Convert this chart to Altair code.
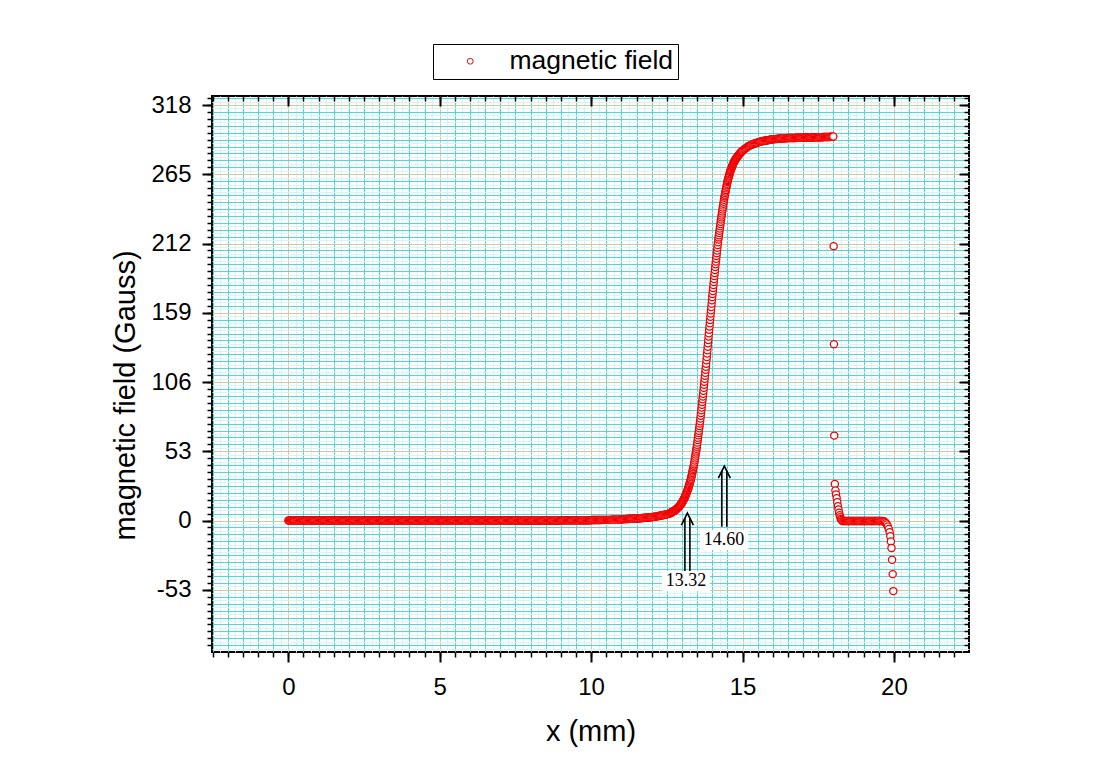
import altair as alt
import pandas as pd

# ---------------- data ----------------
SERIES = "magnetic field"

# flat part, sampled every 0.03 mm from 0.00 mm
seg_a_start, seg_a_step = 0.0, 0.03
seg_a_y = [
    0, 0, 0, 0, 0, 0, 0, 0, 0, 0, 0, 0, 0, 0, 0, 0, 0, 0, 0, 0,
    0, 0, 0, 0, 0, 0, 0, 0, 0, 0, 0, 0, 0, 0, 0, 0, 0, 0, 0, 0,
    0, 0, 0, 0, 0, 0, 0, 0, 0, 0, 0, 0, 0, 0, 0, 0, 0, 0, 0, 0,
    0, 0, 0, 0, 0, 0, 0, 0, 0, 0, 0, 0, 0, 0, 0, 0, 0, 0, 0, 0,
    0, 0, 0, 0, 0, 0, 0, 0, 0, 0, 0, 0, 0, 0, 0, 0, 0, 0, 0, 0,
    0, 0, 0, 0, 0, 0, 0, 0, 0, 0, 0, 0, 0, 0, 0, 0, 0, 0, 0, 0,
    0, 0, 0, 0, 0, 0, 0, 0, 0, 0, 0, 0, 0, 0, 0, 0, 0, 0, 0, 0,
    0, 0, 0, 0, 0, 0, 0, 0, 0, 0, 0, 0, 0, 0, 0, 0, 0, 0, 0, 0,
    0, 0, 0, 0, 0, 0, 0, 0, 0, 0, 0, 0, 0, 0, 0, 0, 0, 0, 0, 0,
    0, 0, 0, 0, 0, 0, 0, 0, 0, 0, 0, 0, 0, 0, 0, 0, 0, 0, 0, 0,
    0, 0, 0, 0, 0, 0, 0, 0, 0, 0, 0, 0, 0, 0, 0, 0, 0, 0, 0, 0,
    0, 0, 0, 0, 0, 0, 0, 0, 0, 0, 0, 0, 0, 0, 0, 0, 0, 0, 0, 0,
    0, 0, 0, 0, 0, 0, 0, 0, 0, 0, 0.1, 0.1, 0.1, 0.1, 0.1, 0.1, 0.1, 0.1, 0.1, 0.1,
    0.1, 0.1, 0.1, 0.1, 0.1, 0.1, 0.1, 0.1, 0.1, 0.1, 0.1, 0.1, 0.1, 0.1, 0.1, 0.1, 0.1, 0.1, 0.1, 0.1,
    0.1, 0.1, 0.1, 0.1, 0.1, 0.1, 0.1, 0.1, 0.1, 0.1, 0.1, 0.1, 0.1, 0.1, 0.1, 0.1, 0.1, 0.1, 0.1, 0.1,
    0.2, 0.2, 0.2, 0.2, 0.2, 0.2, 0.2, 0.2, 0.2, 0.2, 0.2, 0.2, 0.2, 0.2, 0.2, 0.2, 0.2, 0.3, 0.3, 0.3,
    0.3, 0.3, 0.3, 0.3, 0.3, 0.3, 0.3, 0.3, 0.3, 0.3, 0.3, 0.3, 0.3, 0.3, 0.4, 0.4, 0.4, 0.4, 0.4, 0.4,
    0.4, 0.4, 0.4, 0.4, 0.4, 0.5, 0.5, 0.5, 0.5, 0.5, 0.5, 0.5, 0.5, 0.5, 0.5, 0.5, 0.7, 0.7, 0.7, 0.7,
    0.7, 0.7, 0.7, 0.7, 0.7, 0.7, 0.7, 0.9, 1.0, 1.0, 1.1, 1.1, 1.2, 1.2, 1.2, 1.3, 1.3, 1.3, 1.4, 1.4,
    1.4, 1.5, 1.5, 1.5, 1.6, 1.6, 1.7, 1.8, 1.8, 1.9, 2.0, 2.0, 2.1, 2.2, 2.2, 2.3, 2.4, 2.4, 2.5, 2.5,
    2.6, 2.7, 2.8, 2.9, 3.0, 3.1, 3.2, 3.4, 3.5, 3.6, 3.8, 3.9, 4.1, 4.2, 4.4, 4.5, 4.7, 4.9, 5.1, 5.3,
]

# steep rise, sampled every 0.01 mm from 12.60 mm
seg_b_start, seg_b_step = 12.60, 0.01
seg_b_y = [
    5.5, 5.6, 5.8, 5.9, 6.0, 6.2, 6.3, 6.4, 6.5, 6.7,
    6.8, 7.0, 7.1, 7.3, 7.4, 7.6, 7.7, 7.9, 8.0, 8.2,
    8.3, 8.5, 8.7, 9.0, 9.2, 9.4, 9.6, 9.8, 10.1, 10.3,
    10.5, 10.8, 11.1, 11.4, 11.7, 12.0, 12.3, 12.6, 12.9, 13.2,
    13.5, 13.9, 14.4, 14.8, 15.3, 15.7, 16.2, 16.6, 17.1, 17.5,
    18.0, 18.6, 19.2, 19.8, 20.4, 21.0, 21.6, 22.2, 22.8, 23.4,
    24.0, 24.8, 25.6, 26.4, 27.2, 28.0, 28.8, 29.6, 30.4, 31.2,
    32.0, 33.1, 34.2, 35.3, 36.4, 37.5, 38.6, 39.7, 40.8, 41.9,
    43.0, 44.5, 46.0, 47.5, 49.0, 50.5, 52.0, 53.5, 55.0, 56.5,
    58.0, 59.8, 61.6, 63.4, 65.2, 67.0, 68.8, 70.6, 72.4, 74.2,
    76.0, 78.1, 80.2, 82.3, 84.4, 86.5, 88.6, 90.7, 92.8, 94.9,
    97.0, 99.3, 101.6, 103.9, 106.2, 108.5, 110.8, 113.1, 115.4, 117.7,
    120.0, 122.6, 125.2, 127.8, 130.4, 133.0, 135.6, 138.2, 140.8, 143.4,
    146.0, 148.5, 151.0, 153.5, 156.0, 158.5, 161.0, 163.5, 166.0, 168.5,
    171.0, 173.3, 175.6, 177.9, 180.2, 182.5, 184.8, 187.1, 189.4, 191.7,
    194.0, 196.1, 198.2, 200.3, 202.4, 204.5, 206.6, 208.7, 210.8, 212.9,
    215.0, 216.7, 218.4, 220.1, 221.8, 223.5, 225.2, 226.9, 228.6, 230.3,
    232.0, 233.5, 235.0, 236.5, 238.0, 239.5, 241.0, 242.5, 244.0, 245.5,
    247.0, 248.2, 249.4, 250.6, 251.8, 253.0, 254.2, 255.4, 256.6, 257.8,
    259.0, 259.9, 260.7, 261.6, 262.4, 263.3, 264.1, 265.0, 265.8, 266.7,
    267.5, 268.1, 268.7, 269.3, 269.9, 270.5, 271.1, 271.7, 272.3, 272.9,
    273.5, 273.9, 274.3, 274.7, 275.1, 275.5, 275.9, 276.3, 276.7, 277.1,
    277.5, 277.8, 278.1, 278.4, 278.7, 279.0, 279.3, 279.6, 279.9, 280.2,
    280.5, 280.8, 281.0, 281.3, 281.5, 281.8, 282.0, 282.3, 282.5, 282.8,
]

# plateau, sampled every 0.03 mm from 15.00 mm to 18.00 mm
seg_c_start, seg_c_step = 15.00, 0.03
seg_c_y = [
    283.0, 283.5, 284.1, 284.6, 285.1, 285.6, 286.2, 286.6, 287.0, 287.3,
    287.6, 287.9, 288.2, 288.6, 288.8, 289.0, 289.2, 289.4, 289.6, 289.8,
    290.0, 290.2, 290.3, 290.5, 290.6, 290.8, 290.9, 291.0, 291.1, 291.2,
    291.4, 291.5, 291.6, 291.7, 291.8, 291.9, 291.9, 292.0, 292.1, 292.2,
    292.2, 292.3, 292.4, 292.4, 292.5, 292.6, 292.6, 292.6, 292.6, 292.7,
    292.7, 292.7, 292.7, 292.7, 292.8, 292.8, 292.8, 292.8, 292.8, 292.9,
    292.9, 292.9, 292.9, 292.9, 293.0, 293.0, 293.0, 293.0, 293.0, 293.1,
    293.1, 293.1, 293.1, 293.1, 293.2, 293.2, 293.2, 293.2, 293.2, 293.3,
    293.3, 293.3, 293.3, 293.3, 293.4, 293.4, 293.4, 293.4, 293.4, 293.5,
    293.5, 293.5, 293.5, 293.6, 293.6, 293.6, 293.6, 293.7, 293.7, 293.8,
    293.9,
]

# sudden drop after 18 mm
drop_x = [18.01, 18.02, 18.03, 18.05, 18.07, 18.09, 18.11, 18.13, 18.15, 18.17,
          18.19, 18.21, 18.23, 18.25, 18.27]
drop_y = [210, 135, 65, 28, 23, 20, 17, 14, 11, 8.5, 6, 4, 2.5, 1.2, 0.5]

# second flat part, sampled every 0.03 mm from 18.30 mm
seg_d_start, seg_d_step = 18.30, 0.03
seg_d_y = [
    -0.3, -0.3, -0.3, -0.3, -0.3, -0.3, -0.3, -0.3, -0.3, -0.3,
    -0.3, -0.3, -0.3, -0.3, -0.3, -0.3, -0.3, -0.3, -0.3, -0.3,
    -0.3, -0.3, -0.3, -0.3, -0.3, -0.3, -0.3, -0.3, -0.3, -0.3,
    -0.3, -0.3, -0.3, -0.3, -0.3, -0.3, -0.3, -0.3, -0.3, -0.3,
    -0.3, -0.3, -0.3, -0.3, -0.3,
]

# negative tail near 20 mm
tail_x = [19.65, 19.68, 19.71, 19.74, 19.77, 19.80, 19.83, 19.86, 19.88, 19.90,
          19.92, 19.94, 19.96, 19.98]
tail_y = [-0.5, -0.8, -1.3, -2.0, -3.0, -4.5, -6.5, -9, -12, -16, -21, -30, -41, -54]

# annotations (arrows with labels)
ann_text = ["13.32", "14.60"]
ann_x = [13.18, 14.40]
ann_tip = [5.7, 41.7]
ann_base = [-40.2, -4.7]
ann_label_x = [13.13, 14.39]
ann_label_y = [-46.3, -14.9]

# axis ticks
x_major = [0, 5, 10, 15, 20]
y_major = [-53, 0, 53, 106, 159, 212, 265, 318]

X_DOMAIN = [-2.52, 22.48]
Y_DOMAIN = [-100.6, 324.9]

x_minor = [round(-2.5 + 0.5 * k, 2) for k in range(50)]
x_light = [round(-2.25 + 0.5 * k, 2) for k in range(50)]
y_minor = [round(5.3 * k, 2) for k in range(-19, 62)]
y_light = [round(5.3 * k + 2.65, 2) for k in range(-19, 62)]
x_minor = [v for v in x_minor if X_DOMAIN[0] <= v <= X_DOMAIN[1]]
x_light = [v for v in x_light if X_DOMAIN[0] <= v <= X_DOMAIN[1]]
y_minor = [v for v in y_minor if Y_DOMAIN[0] <= v <= Y_DOMAIN[1]]
y_light = [v for v in y_light if Y_DOMAIN[0] <= v <= Y_DOMAIN[1]]


def uniform(start, step, ys):
    return [round(start + i * step, 4) for i in range(len(ys))]


xs = (uniform(seg_a_start, seg_a_step, seg_a_y)
      + uniform(seg_b_start, seg_b_step, seg_b_y)
      + uniform(seg_c_start, seg_c_step, seg_c_y)
      + drop_x
      + uniform(seg_d_start, seg_d_step, seg_d_y)
      + tail_x)
ys = seg_a_y + seg_b_y + seg_c_y + drop_y + seg_d_y + tail_y
df = pd.DataFrame({"x": xs, "field": ys, "series": SERIES})

ann_df = pd.DataFrame({
    "ax": ann_x, "tip": ann_tip, "base": ann_base,
    "lx": ann_label_x, "ly": ann_label_y, "txt": ann_text,
})

# ---------------- styling ----------------
FONT = "Liberation Sans"
CYAN = "#55d6d6"
LIGHT = "#d3f5f5"
TAN = "#d6c6a2"
RED = "#f00000"

X_SCALE = alt.Scale(domain=X_DOMAIN, nice=False, zero=False)
Y_SCALE = alt.Scale(domain=Y_DOMAIN, nice=False, zero=False)


def grid_axis(orient, values, color, tick_size=0):
    kw = dict(orient=orient, values=values, domain=False, labels=False, title=None,
              grid=True, gridColor=color, gridWidth=1, gridOpacity=1)
    if tick_size > 0:
        kw.update(ticks=True, tickSize=tick_size, tickColor="black", tickWidth=1.5)
    else:
        kw.update(ticks=False)
    return alt.Axis(**kw)


def mirror_axis(orient, values, tick_size, tick_width):
    return alt.Axis(orient=orient, values=values, domain=False, labels=False, title=None,
                    grid=False, ticks=True, tickSize=tick_size, tickColor="black",
                    tickWidth=tick_width, offset=-tick_size)


carrier = alt.Chart(ann_df).mark_point(opacity=0, size=1)


def axis_layer(xa, ya):
    return carrier.encode(
        x=alt.X("ax:Q", scale=X_SCALE, axis=xa),
        y=alt.Y("tip:Q", scale=Y_SCALE, axis=ya),
    )


light_layer = axis_layer(grid_axis("bottom", x_light, LIGHT), grid_axis("left", y_light, LIGHT))
cyan_layer = axis_layer(grid_axis("bottom", x_minor, CYAN, 5), grid_axis("left", y_minor, CYAN, 5))

main_x_axis = alt.Axis(
    orient="bottom", values=x_major, domain=False, grid=True, gridColor=TAN, gridWidth=1,
    ticks=True, tickSize=10, tickWidth=2, tickColor="black",
    labelFont=FONT, labelFontSize=24, labelColor="black", labelPadding=13,
    labelExpr="toString(datum.value)",
    title="x (mm)", titleFont=FONT, titleFontSize=29, titleFontWeight="normal",
    titleColor="black", titleY=88, titleBaseline="alphabetic",
)
main_y_axis = alt.Axis(
    orient="left", values=y_major, domain=False, grid=True, gridColor=TAN, gridWidth=1,
    ticks=True, tickSize=10, tickWidth=2, tickColor="black",
    labelFont=FONT, labelFontSize=24, labelColor="black", labelPadding=11,
    labelExpr="toString(datum.value)",
    title="magnetic field (Gauss)", titleFont=FONT, titleFontSize=29,
    titleFontWeight="normal", titleColor="black", titleX=-87, titleY=299,
    titleBaseline="middle", titleAngle=270,
)
major_layer = axis_layer(main_x_axis, main_y_axis)

top_minor = axis_layer(mirror_axis("top", x_minor, 5, 1.5), mirror_axis("right", y_minor, 5, 1.5))
top_major = axis_layer(mirror_axis("top", x_major, 10, 2), mirror_axis("right", y_major, 10, 2))

points = alt.Chart(df).mark_point(
    shape="circle", filled=True, fill="white", size=52, strokeWidth=1.25, opacity=1
).encode(
    x=alt.X("x:Q", scale=X_SCALE, axis=None),
    y=alt.Y("field:Q", scale=Y_SCALE, axis=None),
    stroke=alt.Stroke(
        "series:N",
        scale=alt.Scale(domain=[SERIES], range=[RED]),
        legend=alt.Legend(
            orient="none", legendX=221, legendY=-52, title=None, padding=4,
            strokeColor="black", fillColor="white", cornerRadius=0,
            symbolType="circle", symbolSize=34, symbolStrokeWidth=1,
            symbolFillColor="white", symbolOffset=20, labelOffset=26,
            labelLimit=400,
            labelFont=FONT, labelFontSize=26.5, labelColor="black",
        ),
    ),
)

ann_base_chart = alt.Chart(ann_df)
shaft_l = ann_base_chart.mark_rule(color="black", strokeWidth=1.6, xOffset=-2.5, y2Offset=5).encode(
    x=alt.X("ax:Q", scale=X_SCALE, axis=None),
    y=alt.Y("base:Q", scale=Y_SCALE, axis=None),
    y2="tip:Q",
)
shaft_r = ann_base_chart.mark_rule(color="black", strokeWidth=1.6, xOffset=2.5, y2Offset=5).encode(
    x=alt.X("ax:Q", scale=X_SCALE, axis=None),
    y=alt.Y("base:Q", scale=Y_SCALE, axis=None),
    y2="tip:Q",
)
heads = ann_base_chart.mark_point(
    shape="M-1,2L0,0L1,2", size=144, filled=False, color="black", strokeWidth=1.6, opacity=1
).encode(
    x=alt.X("ax:Q", scale=X_SCALE, axis=None),
    y=alt.Y("tip:Q", scale=Y_SCALE, axis=None),
)
label_bg = ann_base_chart.mark_point(
    shape="M-1,-0.42H1V0.42H-1Z", size=2304, filled=True, fill="white", opacity=1, strokeWidth=0
).encode(
    x=alt.X("lx:Q", scale=X_SCALE, axis=None),
    y=alt.Y("ly:Q", scale=Y_SCALE, axis=None),
)
labels = ann_base_chart.mark_text(
    font="Liberation Serif", fontSize=18, color="black", align="center", baseline="middle"
).encode(
    x=alt.X("lx:Q", scale=X_SCALE, axis=None),
    y=alt.Y("ly:Q", scale=Y_SCALE, axis=None),
    text="txt:N",
)

chart = alt.layer(
    light_layer, cyan_layer, major_layer, top_minor, top_major,
    points, shaft_l, shaft_r, heads, label_bg, labels,
).resolve_axis(
    x="independent", y="independent"
).properties(
    width=757, height=556,
    autosize=alt.AutoSizeParams(type="none"),
    padding={"left": 204, "top": 88, "right": 40, "bottom": 110},
    background="white",
).configure_view(
    stroke="black", strokeWidth=2
)

chart.save("out.html", embed_options={"renderer": "svg", "actions": False})
